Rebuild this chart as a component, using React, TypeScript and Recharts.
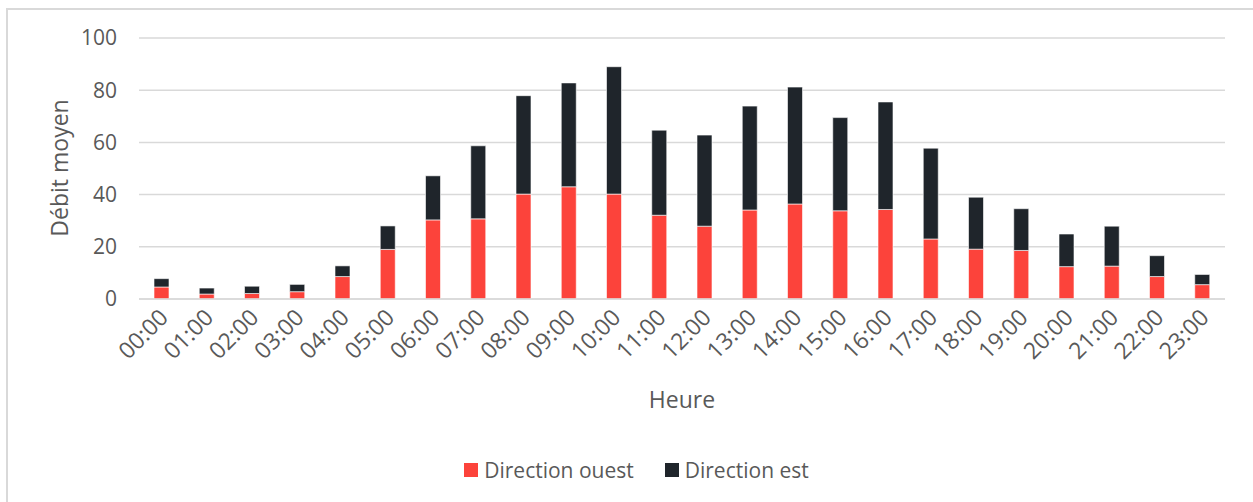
import React from 'react';
import { BarChart, Bar, XAxis, YAxis, CartesianGrid, Legend } from 'recharts';

const hours = ['00:00','01:00','02:00','03:00','04:00','05:00','06:00','07:00','08:00','09:00','10:00','11:00','12:00','13:00','14:00','15:00','16:00','17:00','18:00','19:00','20:00','21:00','22:00','23:00'];
const ouest = [4.6,1.9,2.1,2.8,8.6,19.0,30.3,30.7,40.2,43.0,40.2,32.1,27.9,34.1,36.4,33.8,34.3,23.0,19.1,18.6,12.4,12.6,8.6,5.5];
const est = [3.2,2.3,2.8,2.8,4.1,9.0,16.9,28.0,37.7,39.8,48.8,32.6,34.9,39.8,44.8,35.7,41.2,34.8,19.9,16.0,12.5,15.3,8.0,3.9];
const yTicks = [0,20,40,60,80,100];

const seriesOrder = ['ouest', 'est'];
const seriesNames: Record<string, string> = { ouest: 'Direction ouest', est: 'Direction est' };
const colors: Record<string, string> = { ouest: '#FC433B', est: '#1F252B' };

const data = hours.map((h, i) => ({ heure: h, ouest: ouest[i], est: est[i] }));

const FONT = '"Open Sans", sans-serif';
const TXT = '#595959';

const XTick = (props: any) => {
  const { x, y, payload } = props;
  const ax = x + 8;
  const ay = y + 12;
  return (
    <text x={ax} y={ay} transform={`rotate(-45, ${ax}, ${ay})`} textAnchor="end" fill={TXT} fontSize={23} fontFamily={FONT}>
      {payload.value}
    </text>
  );
};

const LegendContent = (props: any) => {
  const payload = [...(props.payload || [])].sort(
    (a: any, b: any) => seriesOrder.indexOf(a.dataKey) - seriesOrder.indexOf(b.dataKey)
  );
  return (
    <div style={{ display: 'flex', justifyContent: 'center', height: 24, alignItems: 'center', fontFamily: FONT, fontSize: 21, color: TXT, paddingLeft: 48 }}>
      {payload.map((p: any, i: number) => (
        <div key={i} style={{ display: 'flex', alignItems: 'center', marginRight: i < payload.length - 1 ? 31 : 0 }}>
          <span style={{ display: 'inline-block', width: 14, height: 14, background: p.color, marginRight: 6 }} />
          <span style={{ lineHeight: '24px' }}>{p.value}</span>
        </div>
      ))}
    </div>
  );
};

export default function App() {
  return (
    <div style={{ position: 'absolute', left: 0, top: 0, width: 1253, height: 502, overflow: 'hidden', background: '#fff' }}>
      <div style={{ position: 'absolute', left: 6, top: 8, width: 1400, height: 700, borderLeft: '2px solid #d9d9d9', borderTop: '2px solid #d9d9d9' }} />
      <div style={{ position: 'absolute', left: 0, top: 0 }}>
        <BarChart width={1253} height={502} data={data} margin={{ top: 38, right: 28, left: 0, bottom: 20 }} barSize={15}>
          <CartesianGrid vertical={false} stroke="#d9d9d9" strokeWidth={1.5} />
          <XAxis
            dataKey="heure"
            height={159}
            interval={0}
            tickLine={false}
            axisLine={{ stroke: '#d9d9d9', strokeWidth: 1.5 }}
            tick={<XTick />}
            label={{
              content: (p: any) => {
                const vb = p.viewBox;
                return (
                  <text x={vb.x + vb.width / 2} y={408} textAnchor="middle" fill={TXT} fontSize={23} fontFamily={FONT}>Heure</text>
                );
              },
            }}
          />
          <YAxis
            width={139}
            domain={[0, 100]}
            ticks={yTicks}
            interval={0}
            tickLine={false}
            axisLine={false}
            tickMargin={16}
            tick={{ fill: TXT, fontSize: 21, fontFamily: FONT }}
            label={{
              content: () => (
                <text x={68} y={168} transform="rotate(-90, 68, 168)" textAnchor="middle" fill={TXT} fontSize={23} fontFamily={FONT}>Débit moyen</text>
              ),
            }}
          />
          <Legend verticalAlign="bottom" content={<LegendContent />} />
          <Bar dataKey="ouest" name={seriesNames.ouest} stackId="a" fill={colors.ouest} stroke="#ffffff" strokeWidth={0.6} isAnimationActive={false} />
          <Bar dataKey="est" name={seriesNames.est} stackId="a" fill={colors.est} stroke="#ffffff" strokeWidth={0.6} isAnimationActive={false} />
        </BarChart>
      </div>
    </div>
  );
}
